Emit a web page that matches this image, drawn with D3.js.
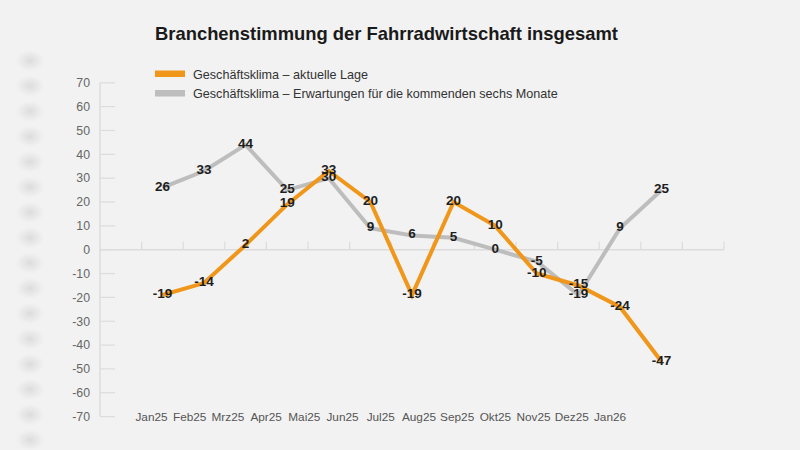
<!DOCTYPE html>
<html><head><meta charset="utf-8">
<script src="https://cdn.jsdelivr.net/npm/d3@7"></script>
<style>html,body{margin:0;padding:0;background:#f2f2f2;}svg{display:block;font-family:"Liberation Sans",Arial,sans-serif;}</style>
</head><body><svg id="c" width="800" height="450"></svg>
<script>
const categories = ["Jan25","Feb25","Mrz25","Apr25","Mai25","Jun25","Jul25","Aug25","Sep25","Okt25","Nov25","Dez25","Jan26"];
const lageValues = [-19,-14,2,19,33,20,-19,20,10,-10,-15,-24,-47];
const erwartungValues = [26,33,44,25,30,9,6,5,0,-5,-19,9,25];
const yTicks = [70,60,50,40,30,20,10,0,-10,-20,-30,-40,-50,-60,-70];
const seriesNames = ["Geschäftsklima – aktuelle Lage","Geschäftsklima – Erwartungen für die kommenden sechs Monate"];
const title = "Branchenstimmung der Fahrradwirtschaft insgesamt";

const svg = d3.select("#c");
svg.append("rect").attr("width",800).attr("height",450).attr("fill","#f2f2f2");

const defs = svg.append("defs");
const rg = defs.append("radialGradient").attr("id","ghostg");
rg.append("stop").attr("offset","0%").attr("stop-color","#d9d9d9").attr("stop-opacity",0.9);
rg.append("stop").attr("offset","60%").attr("stop-color","#e4e4e4").attr("stop-opacity",0.5);
rg.append("stop").attr("offset","100%").attr("stop-color","#f2f2f2").attr("stop-opacity",0);

const y = d3.scaleLinear().domain([-70,70]).range([416.6,82.8]);
const slots = ["_start", ...categories, "_end"];
const x = d3.scaleBand().domain(slots).range([100,724]).padding(0);
const xLab = d3.scalePoint().domain(categories).range([151.5,610]);

// blurred ghost of the axis labels at the left edge
const yGhost = d3.scaleLinear().domain([70,-70]).range([86,440]);
svg.append("g").selectAll("ellipse").data([80].concat(yTicks)).join("ellipse")
  .attr("cx",30).attr("cy",d=>yGhost(d)).attr("rx",16).attr("ry",12)
  .attr("fill","url(#ghostg)");

// title
svg.append("text").attr("x",155).attr("y",40).attr("font-size",18.4).attr("font-weight","bold")
  .attr("fill","#1a1a1a").text(title);

// y axis
const yAxis = svg.append("g");
yAxis.append("line").attr("x1",100).attr("x2",100).attr("y1",y(70)).attr("y2",y(-70))
  .attr("stroke","#dcdcdc").attr("stroke-width",1.5);
yAxis.selectAll("line.t").data(yTicks).join("line").attr("class","t")
  .attr("x1",100).attr("x2",115).attr("y1",d=>y(d)).attr("y2",d=>y(d))
  .attr("stroke","#dcdcdc").attr("stroke-width",1.2);
yAxis.selectAll("text").data(yTicks).join("text")
  .attr("x",90).attr("y",d=>y(d)+4.3).attr("text-anchor","end")
  .attr("font-size",12.3).attr("fill","#666").text(d=>d);

// zero line with upward ticks at slot boundaries
const zl = svg.append("g");
zl.append("line").attr("x1",100).attr("x2",x.range()[1]).attr("y1",y(0)).attr("y2",y(0))
  .attr("stroke","#dcdcdc").attr("stroke-width",1.5);
const bounds = slots.slice(1).map(s=>x(s)).concat([x.range()[1]]);
zl.selectAll("line.b").data(bounds).join("line").attr("class","b")
  .attr("x1",d=>d).attr("x2",d=>d).attr("y1",y(0)).attr("y2",y(0)-8)
  .attr("stroke","#dcdcdc").attr("stroke-width",1.2);

// x labels
svg.append("g").selectAll("text").data(categories).join("text")
  .attr("x",d=>xLab(d)).attr("y",421).attr("text-anchor","middle")
  .attr("font-size",11.8).attr("fill","#555").text(d=>d);

const cx = c => x(c)+x.bandwidth()/2;
const line = d3.line().x((d,i)=>cx(categories[i])).y(d=>y(d));

svg.append("path").datum(erwartungValues).attr("d",line).attr("fill","none")
  .attr("stroke","#bdbdbd").attr("stroke-width",4).attr("stroke-linejoin","miter");
svg.append("path").datum(lageValues).attr("d",line).attr("fill","none")
  .attr("stroke","#f0961a").attr("stroke-width",4).attr("stroke-linejoin","miter");

// data labels
function labels(vals){
  svg.append("g").selectAll("text").data(vals).join("text")
    .attr("x",(d,i)=>cx(categories[i])).attr("y",d=>y(d)+3)
    .attr("text-anchor","middle").attr("font-size",13.5).attr("font-weight","bold")
    .attr("fill","#1e1e1e").text(d=>d);
}
labels(erwartungValues);
labels(lageValues);

// legend
const colors = ["#f0961a","#bdbdbd"];
const lg = svg.append("g");
seriesNames.forEach((n,i)=>{
  lg.append("rect").attr("x",155).attr("y",70.5+i*19.5).attr("width",30).attr("height",6.5).attr("fill",colors[i]);
  lg.append("text").attr("x",193).attr("y",78.5+i*19.5).attr("font-size",12.6).attr("fill","#333").text(n);
});
</script></body></html>
